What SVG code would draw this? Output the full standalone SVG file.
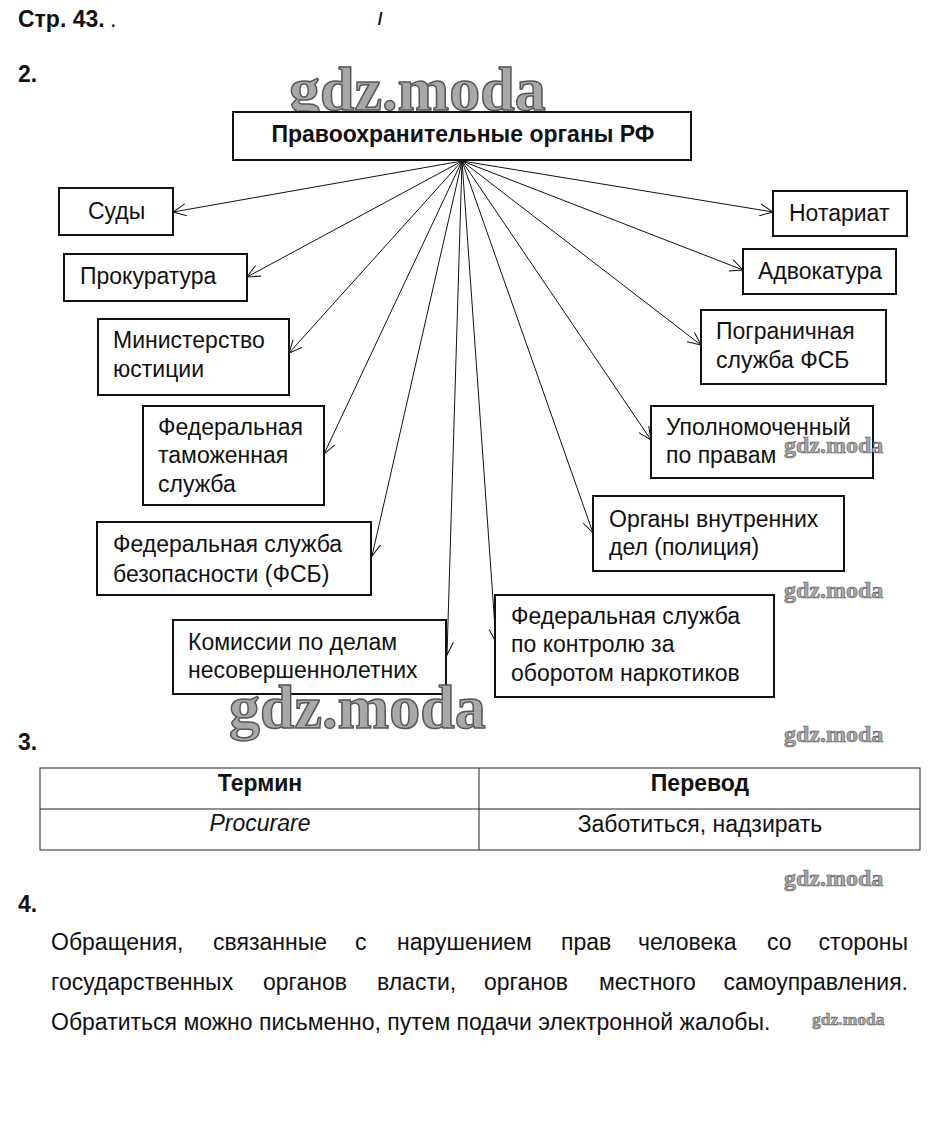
<svg xmlns="http://www.w3.org/2000/svg" width="933" height="1128" viewBox="0 0 933 1128">
<style>
.t{font-family:"Liberation Sans",Arial,sans-serif;font-size:23px;fill:#111}
.b{font-weight:bold}
.box{fill:#fff;stroke:#111;stroke-width:2}
.c line{stroke:#111;stroke-width:1}
.wm{font-family:"Liberation Serif","Times New Roman",serif;font-weight:bold;fill:#a8a8a8;stroke:#555}
.tbl{fill:none;stroke:#222;stroke-width:1}
</style>
<defs>
<marker id="ah" markerUnits="userSpaceOnUse" markerWidth="16" markerHeight="14" refX="13" refY="6" orient="auto" viewBox="0 0 16 12">
<path d="M0,0 L13,6 L0,12" fill="none" stroke="#111" stroke-width="1"/>
</marker>
</defs>
<rect width="933" height="1128" fill="#fff"/>
<text class="t b" x="18" y="27" font-size="19">Стр. 43.</text>
<text class="t" x="110" y="27" font-size="10" fill="#777">.</text>
<text class="t" x="377" y="25" font-size="16" font-style="italic">ı</text>
<text class="t b" x="18" y="82" font-size="19">2.</text>

<text class="wm" x="289" y="110" font-size="62" stroke-width="1.5">gdz.moda</text>

<g id="connectors" class="c">
<line x1="462" y1="161" x2="173" y2="212" marker-end="url(#ah)"/>
<line x1="462" y1="161" x2="247" y2="277" marker-end="url(#ah)"/>
<line x1="462" y1="161" x2="289" y2="353" marker-end="url(#ah)"/>
<line x1="462" y1="161" x2="324" y2="454" marker-end="url(#ah)"/>
<line x1="462" y1="161" x2="372" y2="556" marker-end="url(#ah)"/>
<line x1="462" y1="161" x2="447" y2="655" marker-end="url(#ah)"/>
<line x1="462" y1="161" x2="496" y2="642" marker-end="url(#ah)"/>
<line x1="462" y1="161" x2="593" y2="533" marker-end="url(#ah)"/>
<line x1="462" y1="161" x2="651" y2="440" marker-end="url(#ah)"/>
<line x1="462" y1="161" x2="701" y2="345" marker-end="url(#ah)"/>
<line x1="462" y1="161" x2="743" y2="270" marker-end="url(#ah)"/>
<line x1="462" y1="161" x2="773" y2="212" marker-end="url(#ah)"/>
</g>

<g id="root">
<rect class="box" x="233" y="112" width="458" height="48"/>
<text class="t b" x="463" y="142" font-size="21" text-anchor="middle">Правоохранительные органы РФ</text>
</g>
<g id="sudy">
<rect class="box" x="59" y="188" width="114" height="47"/>
<text class="t" x="88" y="219">Суды</text>
</g>
<g id="prokuratura">
<rect class="box" x="64" y="254" width="183" height="47"/>
<text class="t" x="80" y="284">Прокуратура</text>
</g>
<g id="minjust">
<rect class="box" x="98" y="319" width="191" height="76"/>
<text class="t" x="113" y="348">Министерство</text>
<text class="t" x="113" y="377">юстиции</text>
</g>
<g id="customs">
<rect class="box" x="143" y="406" width="181" height="99"/>
<text class="t" x="158" y="435">Федеральная</text>
<text class="t" x="158" y="463">таможенная</text>
<text class="t" x="158" y="492">служба</text>
</g>
<g id="fsb">
<rect class="box" x="97" y="522" width="274" height="73"/>
<text class="t" x="113" y="552">Федеральная служба</text>
<text class="t" x="113" y="582">безопасности (ФСБ)</text>
</g>
<g id="kdn">
<rect class="box" x="173" y="620" width="273" height="74"/>
<text class="t" x="188" y="650">Комиссии по делам</text>
<text class="t" x="188" y="678">несовершеннолетних</text>
</g>
<g id="narco">
<rect class="box" x="495" y="595" width="279" height="102"/>
<text class="t" x="511" y="624">Федеральная служба</text>
<text class="t" x="511" y="652">по контролю за</text>
<text class="t" x="511" y="681">оборотом наркотиков</text>
</g>
<g id="mvd">
<rect class="box" x="593" y="496" width="251" height="75"/>
<text class="t" x="609" y="527">Органы внутренних</text>
<text class="t" x="609" y="555">дел (полиция)</text>
</g>
<g id="ombudsman">
<rect class="box" x="651" y="406" width="222" height="72"/>
<text class="t" x="666" y="435">Уполномоченный</text>
<text class="t" x="666" y="463">по правам</text>
</g>
<g id="border">
<rect class="box" x="701" y="310" width="185" height="74"/>
<text class="t" x="716" y="339">Пограничная</text>
<text class="t" x="716" y="368">служба ФСБ</text>
</g>
<g id="advokatura">
<rect class="box" x="743" y="249" width="153" height="45"/>
<text class="t" x="758" y="279">Адвокатура</text>
</g>
<g id="notariat">
<rect class="box" x="773" y="191" width="134" height="45"/>
<text class="t" x="789" y="221">Нотариат</text>
</g>

<text class="wm" x="784" y="453" font-size="24" stroke-width="0.6">gdz.moda</text>
<text class="wm" x="784" y="598" font-size="24" stroke-width="0.6">gdz.moda</text>
<text class="wm" x="229" y="728" font-size="62" stroke-width="1.5">gdz.moda</text>
<text class="wm" x="784" y="742" font-size="24" stroke-width="0.6">gdz.moda</text>
<text class="wm" x="784" y="886" font-size="24" stroke-width="0.6">gdz.moda</text>
<text class="wm" x="812" y="1025" font-size="17.5" stroke-width="0.5">gdz.moda</text>

<text class="t b" x="18" y="750" font-size="19">3.</text>
<g id="table">
<rect class="tbl" x="40" y="768" width="880" height="82"/>
<line class="tbl" x1="40" y1="809" x2="920" y2="809"/>
<line class="tbl" x1="479" y1="768" x2="479" y2="850"/>
<text class="t b" x="260" y="791" text-anchor="middle" font-size="22">Термин</text>
<text class="t b" x="700" y="791" text-anchor="middle" font-size="22">Перевод</text>
<text class="t" x="260" y="831" text-anchor="middle" font-style="italic">Procurare</text>
<text class="t" x="700" y="832" text-anchor="middle">Заботиться, надзирать</text>
</g>

<text class="t b" x="18" y="912" font-size="19">4.</text>
<g id="answer">
<text class="t" y="950"><tspan x="51">Обращения,</tspan><tspan x="213">связанные</tspan><tspan x="355">с</tspan><tspan x="397">нарушением</tspan><tspan x="561">прав</tspan><tspan x="638">человека</tspan><tspan x="767">со</tspan><tspan x="908" text-anchor="end">стороны</tspan></text>
<text class="t" y="990"><tspan x="51">государственных</tspan><tspan x="263">органов</tspan><tspan x="377">власти,</tspan><tspan x="484">органов</tspan><tspan x="599">местного</tspan><tspan x="908" text-anchor="end">самоуправления.</tspan></text>
<text class="t" x="51" y="1030">Обратиться можно письменно, путем подачи электронной жалобы.</text>
</g>
</svg>
